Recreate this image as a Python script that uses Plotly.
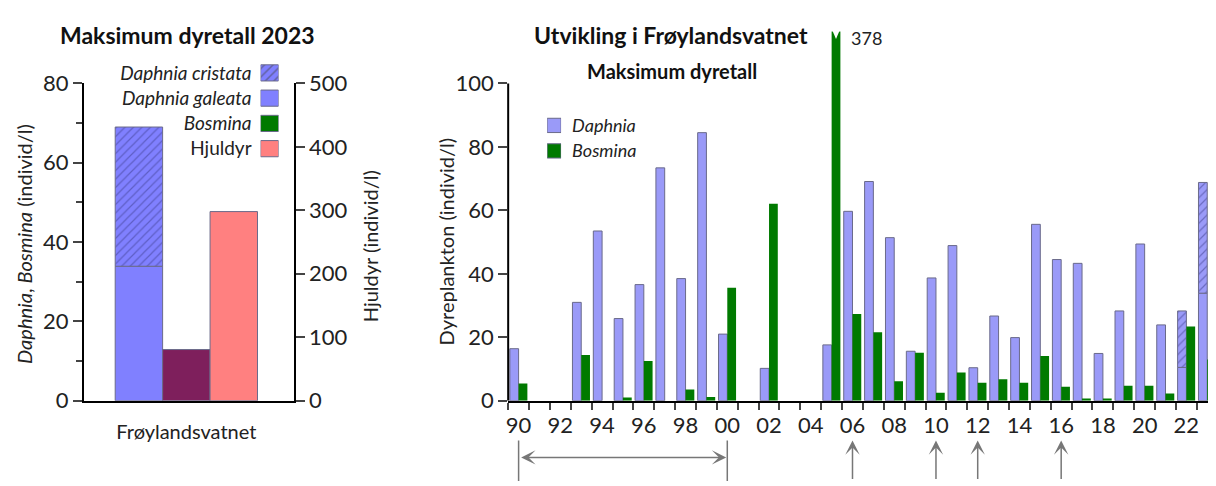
import plotly.graph_objects as go

# ---- data -------------------------------------------------------------
years = list(range(1990, 2024))
daphnia = [16.4, None, None, 31.0, 53.5, 25.9, 36.6, 73.4, 38.5, 84.5,
           21.0, None, 10.2, None, None, 17.6, 59.7, 69.1, 51.4, 15.6,
           38.7, 48.9, 10.4, 26.7, 19.9, 55.6, 44.5, 43.3, 14.9, 28.3,
           49.4, 23.9, 10.5, 33.9]
daphnia_cristata = [None] * 32 + [17.8, 34.9]
bosmina = [5.4, None, None, 14.4, None, 1.0, 12.5, None, 3.5, 1.2,
           35.6, None, 62.1, None, None, 378, 27.3, 21.6, 6.1, 15.1,
           2.5, 8.9, 5.7, 6.8, 5.7, 14.1, 4.4, 0.7, 0.7, 4.7,
           4.7, 2.3, 23.4, 13.0]
arrow_years = [2006, 2010, 2012, 2016]
period = [1990, 2000]

lake = "Frøylandsvatnet"
galeata_2023 = 33.9
cristata_2023 = 35.1
bosmina_2023 = 12.9
hjuldyr_2023 = 298

left_legend = ["<i>Daphnia cristata</i>", "<i>Daphnia galeata</i>", "<i>Bosmina</i>", "Hjuldyr"]
right_legend = ["<i>Daphnia</i>", "<i>Bosmina</i>"]

# ---- helpers ----------------------------------------------------------
# page coordinates -> paper coordinates (the page body adds an 8px margin)
W, H = 1216, 486
OFF = 8
def px(p):
    return (p - OFF) / W
def py(p):
    return 1 - (p - OFF) / H

FONT = "Lato"
BLUE_L = "#8080FF"
BLUE_R = "#9A9AF8"
HATCH = "#3C3C8C"
GREEN = "#007A00"
PURPLE = "#7E1F5C"
PINK = "#FF8080"
EDGE = "#6A6A8A"
TXT = "#222"

fig = go.Figure()

# ---- left chart -------------------------------------------------------
fig.add_trace(go.Bar(x=[-1], y=[galeata_2023], width=1, marker=dict(color=BLUE_L, line=dict(color=EDGE, width=1)),
                     xaxis="x", yaxis="y", showlegend=False))
fig.add_trace(go.Bar(x=[-1], y=[cristata_2023], base=[galeata_2023], width=1,
                     marker=dict(color=BLUE_L, line=dict(color=EDGE, width=1),
                                 pattern=dict(shape="/", fgcolor=HATCH, size=6, solidity=0.2)),
                     xaxis="x", yaxis="y", showlegend=False))
fig.add_trace(go.Bar(x=[0], y=[bosmina_2023], width=1, marker=dict(color=PURPLE, line=dict(color=EDGE, width=1)),
                     xaxis="x", yaxis="y", showlegend=False))
fig.add_trace(go.Bar(x=[1], y=[hjuldyr_2023], width=1, marker=dict(color=PINK, line=dict(color=EDGE, width=1)),
                     xaxis="x", yaxis="y2", showlegend=False))

# left legend (swatches at the right of the text)
fig.add_trace(go.Bar(y=left_legend, x=[1, 1, 1, 1], orientation="h", width=0.64,
                     marker=dict(color=[BLUE_L, BLUE_L, GREEN, PINK], line=dict(color=EDGE, width=1),
                                 pattern=dict(shape=["/", "", "", ""], fgcolor=HATCH, size=6, solidity=0.25)),
                     xaxis="x3", yaxis="y4", showlegend=False, hoverinfo="skip"))

# ---- right chart ------------------------------------------------------
fig.add_trace(go.Bar(x=years, y=daphnia, width=0.42, offset=-0.42,
                     marker=dict(color=BLUE_R, line=dict(color=EDGE, width=1)),
                     xaxis="x2", yaxis="y3", showlegend=False, name="Daphnia"))
fig.add_trace(go.Bar(x=years, y=daphnia_cristata, base=daphnia, width=0.42, offset=-0.42,
                     marker=dict(color=BLUE_R, line=dict(color=EDGE, width=1),
                                 pattern=dict(shape="/", fgcolor=HATCH, size=6, solidity=0.2)),
                     xaxis="x2", yaxis="y3", showlegend=False, name="Daphnia cristata"))
fig.add_trace(go.Bar(x=years, y=bosmina, width=0.42, offset=0,
                     marker=dict(color=GREEN, line=dict(width=0)),
                     xaxis="x2", yaxis="y3", showlegend=False, name="Bosmina"))

fig.add_trace(go.Bar(y=right_legend, x=[1, 1], orientation="h", width=0.56,
                     marker=dict(color=[BLUE_R, GREEN], line=dict(color=EDGE, width=1)),
                     xaxis="x4", yaxis="y5", showlegend=False, hoverinfo="skip"))

# ---- axes -------------------------------------------------------------
tickfont = dict(family=FONT, size=22, color=TXT)
fig.update_layout(
    width=W, height=H, margin=dict(l=0, r=0, t=0, b=0),
    plot_bgcolor="white", paper_bgcolor="white", barmode="overlay",
    font=dict(family=FONT, color=TXT),
    xaxis=dict(domain=[px(82), px(292)], range=[-2.16, 2.26], showline=True, linecolor="black", linewidth=2,
               tickvals=[0], ticktext=[lake], ticks="", ticklabelstandoff=12,
               tickfont=dict(family=FONT, size=20, color=TXT),
               showgrid=False, zeroline=False, fixedrange=True),
    yaxis=dict(domain=[py(409), py(73)], range=[0, 80], dtick=20, showline=True, linecolor="black", linewidth=2,
               ticks="outside", ticklen=9, tickwidth=2, tickfont=tickfont, showgrid=False, zeroline=False,
               minor=dict(dtick=10, ticks="outside", ticklen=6, tickwidth=2, showgrid=False)),
    yaxis2=dict(overlaying="y", side="right", anchor="x", range=[0, 500], dtick=100, showline=True,
                linecolor="black", linewidth=2, ticks="outside", ticklen=9, tickwidth=2, tickfont=tickfont,
                showgrid=False, zeroline=False),
    xaxis2=dict(domain=[px(507), px(1216)], range=[1989.5, 2023.42], anchor="y3", showline=True,
                linecolor="black", linewidth=2, tickvals=[y for y in years if y % 2 == 0],
                ticktext=[str(y)[2:] for y in years if y % 2 == 0], ticks="", ticklabelstandoff=4,
                tickfont=tickfont, showgrid=False, zeroline=False,
                minor=dict(tick0=1989.5, dtick=1, ticks="outside", ticklen=7, tickwidth=2, showgrid=False)),
    yaxis3=dict(domain=[py(409), py(18)], range=[0, 116.4], anchor="x2", tickvals=[0, 20, 40, 60, 80, 100],
                showline=False, ticks="outside", ticklen=9, tickwidth=2, tickfont=tickfont,
                showgrid=False, zeroline=False),
    xaxis3=dict(domain=[px(259), px(277)], range=[0, 1], anchor="y4", visible=False),
    yaxis4=dict(domain=[py(155.5), py(48.5)], anchor="x3", autorange="reversed", ticks="",
                showline=False, showgrid=False, ticklabelstandoff=8,
                tickfont=dict(family=FONT, size=19, color=TXT)),
    xaxis4=dict(domain=[px(546), px(560)], range=[0, 1], anchor="y5", visible=False),
    yaxis5=dict(domain=[py(158), py(104)], anchor="x4", autorange="reversed", side="right", ticks="",
                showline=False, showgrid=False, ticklabelstandoff=10,
                tickfont=dict(family=FONT, size=18, color=TXT)),
)

# right y-axis line only up to 100
fig.add_shape(type="line", xref="x2 domain", yref="y3", x0=0, x1=0, y0=0, y1=100,
              line=dict(color="black", width=2))

# notch on the truncated 2005 Bosmina bar
top = max(v for v in bosmina if v is not None)
peak = years[bosmina.index(top)]
fig.add_shape(type="path", xref="x2", yref="paper",
              path=f"M{peak - 0.02},{py(14)} L{peak + 0.21},{py(26)} L{peak + 0.44},{py(14)} Z",
              fillcolor="white", line=dict(width=0))
fig.add_annotation(x=peak + 0.85, y=py(25), xref="x2", yref="paper", text=str(top),
                   showarrow=False, xanchor="left", yanchor="middle", font=dict(family=FONT, size=18, color=TXT))

# arrows under the time axis
ARROW = "#777777"
for yr in period:
    fig.add_shape(type="line", xref="x2", yref="paper", x0=yr, x1=yr, y0=py(451), y1=py(494),
                  line=dict(color=ARROW, width=1.5))
fig.add_annotation(x=period[1] - 0.05, y=py(469), xref="x2", yref="paper", ax=period[0] + 0.05, ay=0,
                   axref="x2", ayref="pixel", text="", showarrow=True, arrowside="end+start",
                   arrowhead=3, arrowsize=1.6, arrowwidth=1.5, arrowcolor=ARROW)
for yr in arrow_years:
    fig.add_annotation(x=yr, y=py(451), xref="x2", yref="paper", ax=0, ay=40, text="", showarrow=True,
                       arrowhead=3, arrowsize=1.6, arrowwidth=1.5, arrowcolor=ARROW)

# titles
fig.add_annotation(x=px(186), y=py(22), xref="paper", yref="paper", text="<b>Maksimum dyretall 2023</b>",
                   showarrow=False, xanchor="center", yanchor="middle", font=dict(family=FONT, size=23, color="#111"))
fig.add_annotation(x=px(670), y=py(22), xref="paper", yref="paper", text="<b>Utvikling i Frøylandsvatnet</b>",
                   showarrow=False, xanchor="center", yanchor="middle", font=dict(family=FONT, size=23, color="#111"))
fig.add_annotation(x=px(671), y=py(60), xref="paper", yref="paper", text="<b>Maksimum dyretall</b>",
                   showarrow=False, xanchor="center", yanchor="middle", font=dict(family=FONT, size=20, color="#111"))

# axis titles
fig.add_annotation(x=px(22), y=py(243), xref="paper", yref="paper", textangle=-90,
                   text="<i>Daphnia</i>, <i>Bosmina</i> (individ/l)", showarrow=False,
                   xanchor="center", yanchor="middle", font=dict(family=FONT, size=20, color=TXT))
fig.add_annotation(x=px(368), y=py(245), xref="paper", yref="paper", textangle=-90,
                   text="Hjuldyr (individ/l)", showarrow=False, xanchor="center", yanchor="middle",
                   font=dict(family=FONT, size=20, color=TXT))
fig.add_annotation(x=px(445), y=py(240), xref="paper", yref="paper", textangle=-90,
                   text="Dyreplankton (individ/l)", showarrow=False, xanchor="center", yanchor="middle",
                   font=dict(family=FONT, size=20, color=TXT))

fig.write_html("out.html")
